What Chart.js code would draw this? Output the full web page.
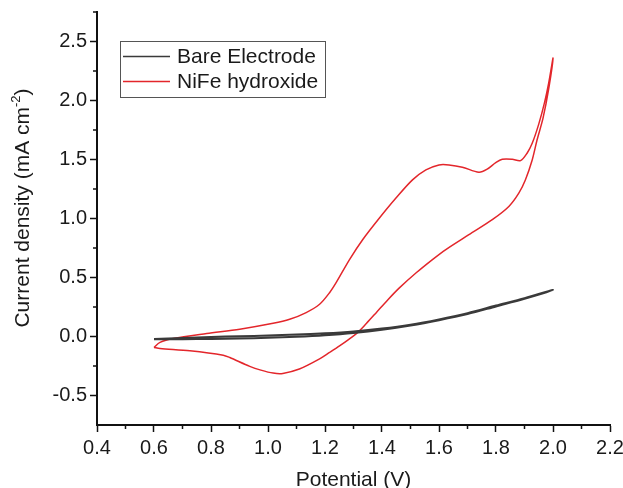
<!DOCTYPE html>
<html>
<head>
<meta charset="utf-8">
<script src="https://cdn.jsdelivr.net/npm/chart.js@4/dist/chart.umd.min.js"></script>
<style>
  html, body { margin: 0; padding: 0; background: #fff; }
  canvas { display: block; }
</style>
</head>
<body>
<canvas id="cv" width="623" height="488"></canvas>
<script>
// Bare electrode loop: forward sweep then reverse sweep
const bareV = [0.6, 0.7, 0.8, 0.9, 1.0, 1.1, 1.2, 1.3, 1.4, 1.5, 1.6, 1.7, 1.8, 1.9, 2.0,
               1.9, 1.8, 1.7, 1.6, 1.5, 1.4, 1.3, 1.2, 1.1, 1.0, 0.9, 0.8, 0.7, 0.6];
const bareJ = [-0.022, -0.012, -0.004, 0.002, 0.008, 0.016, 0.027, 0.043, 0.067, 0.10, 0.145, 0.198, 0.262, 0.325, 0.395,
               0.32, 0.255, 0.19, 0.138, 0.093, 0.057, 0.03, 0.011, -0.002, -0.011, -0.017, -0.021, -0.023, -0.024];

// NiFe hydroxide loop: anodic sweep up to 2.0 V, then cathodic sweep back to 0.6 V
const nifeV = [0.60, 0.621, 0.668, 0.785, 0.901, 1.018, 1.076, 1.134, 1.181, 1.216, 1.239, 1.286, 1.332, 1.391, 1.449, 1.507,
               1.554, 1.60, 1.635, 1.682, 1.74, 1.769, 1.799, 1.822, 1.857, 1.886, 1.909, 1.927, 1.95, 1.97, 1.985, 2.00,
               1.985, 1.965, 1.944, 1.927, 1.903, 1.88, 1.845, 1.787, 1.705, 1.624, 1.577, 1.52, 1.46, 1.42, 1.379, 1.345, 1.315,
               1.28, 1.251, 1.216, 1.181, 1.11, 1.052, 1.018, 0.975, 0.936, 0.866, 0.843, 0.726, 0.621, 0.60];
const nifeJ = [-0.093, -0.05, -0.017, 0.025, 0.062, 0.112, 0.146, 0.203, 0.273, 0.371, 0.456, 0.652, 0.82, 1.004, 1.173, 1.327,
               1.412, 1.454, 1.454, 1.435, 1.392, 1.418, 1.473, 1.502, 1.502, 1.49, 1.553, 1.637, 1.80, 1.98, 2.15, 2.36,
               2.10, 1.85, 1.665, 1.496, 1.327, 1.215, 1.102, 0.99, 0.863, 0.737, 0.652, 0.54, 0.41, 0.31, 0.20, 0.11, 0.035,
               -0.03, -0.079, -0.135, -0.19, -0.276, -0.313, -0.31, -0.285, -0.253, -0.178, -0.158, -0.121, -0.101, -0.093];

const xMajor = [0.4, 0.6, 0.8, 1.0, 1.2, 1.4, 1.6, 1.8, 2.0, 2.2];
const yMajor = [-0.5, 0.0, 0.5, 1.0, 1.5, 2.0, 2.5];

const seriesNames = ['Bare Electrode', 'NiFe hydroxide'];
const seriesColors = ['#3a3a3a', '#e3262b'];

const FONT = '"Liberation Sans", Arial, sans-serif';

function toPoints(xs, ys) {
  return xs.map((x, i) => ({ x: x, y: ys[i] }));
}

// minor ticks, axis titles and the boxed legend
const extras = {
  id: 'extras',
  afterDraw(chart) {
    const ctx = chart.ctx;
    const xs = chart.scales.x, ys = chart.scales.y;
    const area = chart.chartArea;
    ctx.save();
    ctx.strokeStyle = '#111';
    ctx.lineWidth = 1.5;
    ctx.beginPath();
    for (let i = 0; i < xMajor.length - 1; i++) {
      const px = xs.getPixelForValue((xMajor[i] + xMajor[i + 1]) / 2);
      ctx.moveTo(px, area.bottom);
      ctx.lineTo(px, area.bottom + 4);
    }
    const yMinor = [-0.25, 0.25, 0.75, 1.25, 1.75, 2.25, 2.75];
    yMinor.forEach(v => {
      const py = ys.getPixelForValue(v);
      ctx.moveTo(area.left, py);
      ctx.lineTo(area.left - 4, py);
    });
    ctx.stroke();

    // axis titles
    ctx.fillStyle = '#1a1a1a';
    ctx.font = '21px ' + FONT;
    ctx.textAlign = 'center';
    ctx.textBaseline = 'alphabetic';
    ctx.fillText('Potential (V)', (area.left + area.right) / 2, 486);

    ctx.save();
    ctx.translate(29, 208);
    ctx.rotate(-Math.PI / 2);
    const main = 'Current density (mA cm';
    const sup = '-2';
    const tail = ')';
    ctx.font = '21px ' + FONT;
    const wMain = ctx.measureText(main).width;
    const wTail = ctx.measureText(tail).width;
    ctx.font = '13px ' + FONT;
    const wSup = ctx.measureText(sup).width;
    let x0 = -(wMain + wSup + wTail) / 2;
    ctx.textAlign = 'left';
    ctx.font = '21px ' + FONT;
    ctx.fillText(main, x0, 0);
    ctx.font = '13px ' + FONT;
    ctx.fillText(sup, x0 + wMain, -9);
    ctx.font = '21px ' + FONT;
    ctx.fillText(tail, x0 + wMain + wSup, 0);
    ctx.restore();

    // legend box
    ctx.strokeStyle = '#555';
    ctx.lineWidth = 1;
    ctx.strokeRect(120.5, 41.5, 205, 56);
    ctx.font = '21px ' + FONT;
    ctx.textAlign = 'left';
    ctx.textBaseline = 'middle';
    seriesNames.forEach((name, i) => {
      const ly = 56.5 + i * 25;
      ctx.strokeStyle = seriesColors[i];
      ctx.lineWidth = 1.5;
      ctx.beginPath();
      ctx.moveTo(123, ly);
      ctx.lineTo(170, ly);
      ctx.stroke();
      ctx.fillStyle = '#1a1a1a';
      ctx.fillText(name, 177, ly + 1);
    });
    ctx.restore();
  }
};

new Chart(document.getElementById('cv'), {
  type: 'scatter',
  data: {
    datasets: [
      {
        label: seriesNames[0],
        data: toPoints(bareV, bareJ),
        showLine: true,
        borderColor: seriesColors[0],
        borderWidth: 2,
        pointRadius: 0,
        tension: 0.3
      },
      {
        label: seriesNames[1],
        data: toPoints(nifeV, nifeJ),
        showLine: true,
        borderColor: seriesColors[1],
        borderWidth: 1.5,
        pointRadius: 0,
        tension: 0.3
      }
    ]
  },
  options: {
    responsive: false,
    animation: false,
    layout: { padding: { top: 12, right: 13, left: 0, bottom: 0 } },
    plugins: {
      legend: { display: false },
      tooltip: { enabled: false }
    },
    scales: {
      x: {
        type: 'linear',
        min: 0.4,
        max: 2.2,
        afterBuildTicks: s => { s.ticks = xMajor.map(v => ({ value: v })); },
        afterFit: s => { s.height = 63; s.paddingLeft = 0; s.paddingRight = 0; },
        ticks: {
          color: '#1a1a1a',
          font: { family: FONT, size: 20 },
          padding: 4,
          maxRotation: 0,
          callback: v => v.toFixed(1)
        },
        grid: { drawOnChartArea: false, tickLength: 7, tickColor: '#111', tickWidth: 1.5 },
        border: { color: '#111', width: 2 }
      },
      y: {
        type: 'linear',
        min: -0.75,
        max: 2.75,
        afterBuildTicks: s => { s.ticks = yMajor.map(v => ({ value: v })); },
        afterFit: s => { s.width = 97; s.paddingTop = 0; s.paddingBottom = 0; },
        ticks: {
          color: '#1a1a1a',
          font: { family: FONT, size: 20 },
          padding: 3,
          callback: v => v.toFixed(1)
        },
        grid: { drawOnChartArea: false, tickLength: 7, tickColor: '#111', tickWidth: 1.5 },
        border: { color: '#111', width: 2 }
      }
    }
  },
  plugins: [extras]
});
</script>
</body>
</html>
